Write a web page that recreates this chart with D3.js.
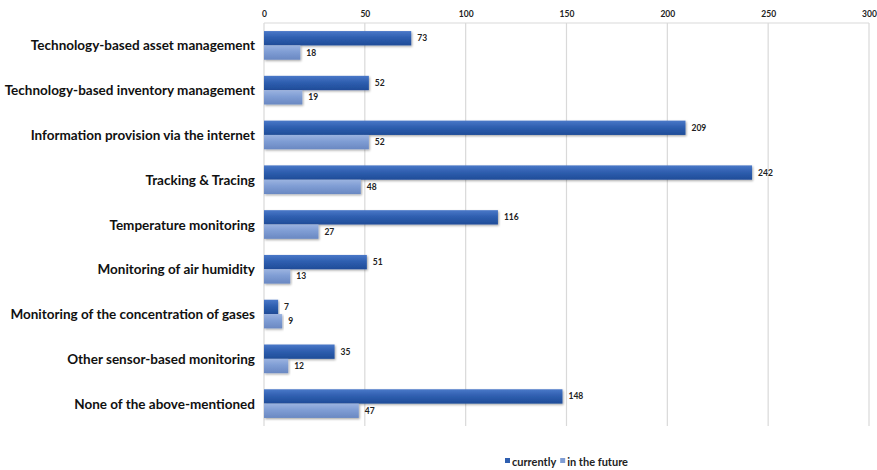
<!DOCTYPE html>
<html>
<head>
<meta charset="utf-8">
<script src="https://cdn.jsdelivr.net/npm/d3@7"></script>
<style>
  html, body { margin: 0; padding: 0; background: #fff; }
  svg { display: block; }
</style>
</head>
<body>
<svg id="chart" width="877" height="470"></svg>
<script>
// Chart data
const categories = [
  "Technology-based asset management",
  "Technology-based inventory management",
  "Information provision via the internet",
  "Tracking & Tracing",
  "Temperature monitoring",
  "Monitoring of air humidity",
  "Monitoring of the concentration of gases",
  "Other sensor-based monitoring",
  "None of the above-mentioned"
];
const seriesNames = ["currently", "in the future"];
const currently = [73, 52, 209, 242, 116, 51, 7, 35, 148];
const inTheFuture = [18, 19, 52, 48, 27, 13, 9, 12, 47];
const xTicks = [0, 50, 100, 150, 200, 250, 300];

const rows = categories.map((c, i) => ({
  category: c,
  values: [
    { key: seriesNames[0], value: currently[i] },
    { key: seriesNames[1], value: inTheFuture[i] }
  ]
}));

const svg = d3.select("#chart");
const margin = { top: 23, left: 264, right: 8, bottom: 44 };
const plotW = 605, plotH = 403;

const g = svg.append("g").attr("transform", `translate(${margin.left},${margin.top})`);

const x = d3.scaleLinear().domain([0, 300]).range([0, plotW]);
const y0 = d3.scaleBand().domain(categories).range([0, plotH])
  .paddingInner(0.36).paddingOuter(0.18);
const y1 = d3.scaleBand().domain(seriesNames).range([0, y0.bandwidth()]);

// Gradients for the bars
const defs = svg.append("defs");
const grads = [
  { id: "gCur", stops: ["#4a78c8", "#2f5fb0", "#1f4c98"] },
  { id: "gFut", stops: ["#9bb3e0", "#7f9dd4", "#6a88c2"] }
];
grads.forEach(gr => {
  const lg = defs.append("linearGradient").attr("id", gr.id)
    .attr("x1", 0).attr("y1", 0).attr("x2", 0).attr("y2", 1);
  lg.append("stop").attr("offset", "0%").attr("stop-color", gr.stops[0]);
  lg.append("stop").attr("offset", "45%").attr("stop-color", gr.stops[1]);
  lg.append("stop").attr("offset", "100%").attr("stop-color", gr.stops[2]);
});
const shadow = defs.append("filter").attr("id", "shadow")
  .attr("x", "-5%").attr("y", "-20%").attr("width", "115%").attr("height", "160%");
shadow.append("feDropShadow").attr("dx", 1).attr("dy", 1.2)
  .attr("stdDeviation", 0.9).attr("flood-color", "#000").attr("flood-opacity", 0.35);

const fills = { "currently": "url(#gCur)", "in the future": "url(#gFut)" };
const legendColors = { "currently": "#2f5fb0", "in the future": "#7f9dd4" };

// Top axis with gridlines
const xAxis = d3.axisTop(x).tickValues(xTicks).tickSize(0).tickPadding(8);
const ax = g.append("g").attr("class", "x-axis").call(xAxis);
ax.select(".domain").remove();
ax.selectAll("text")
  .attr("font-family", "Lato, 'Open Sans', sans-serif")
  .attr("font-size", 8.5).attr("font-weight", "bold").attr("fill", "#222")
  .attr("dy", "0.2em");

g.append("g").selectAll("line").data(xTicks).join("line")
  .attr("x1", d => x(d)).attr("x2", d => x(d))
  .attr("y1", 0).attr("y2", plotH)
  .attr("stroke", "#d9d9d9").attr("stroke-width", 1.2);
g.append("line").attr("x1", 0).attr("x2", plotW).attr("y1", 0).attr("y2", 0)
  .attr("stroke", "#d9d9d9").attr("stroke-width", 1.2);

// Category labels
g.append("g").selectAll("text").data(categories).join("text")
  .attr("x", -9)
  .attr("y", d => y0(d) + y0.bandwidth() / 2)
  .attr("text-anchor", "end").attr("dominant-baseline", "central")
  .attr("font-family", "Lato, 'Open Sans', sans-serif")
  .attr("font-size", 13.5).attr("font-weight", "bold").attr("fill", "#111")
  .text(d => d);

// Bars
const groups = g.append("g").selectAll("g").data(rows).join("g")
  .attr("transform", d => `translate(0,${y0(d.category)})`);

groups.selectAll("rect").data(d => d.values).join("rect")
  .attr("x", x(0))
  .attr("y", d => y1(d.key))
  .attr("width", d => x(d.value) - x(0))
  .attr("height", y1.bandwidth())
  .attr("fill", d => fills[d.key])
  .attr("filter", "url(#shadow)");

groups.selectAll("text").data(d => d.values).join("text")
  .attr("x", d => x(d.value) + 6)
  .attr("y", d => y1(d.key) + y1.bandwidth() / 2)
  .attr("dominant-baseline", "central")
  .attr("font-family", "Lato, 'Open Sans', sans-serif")
  .attr("font-size", 8.5).attr("font-weight", "bold").attr("fill", "#222")
  .text(d => d.value);

// Legend
const legend = svg.append("g").attr("transform", "translate(505,461)");
let lx = 0;
seriesNames.forEach(name => {
  const item = legend.append("g").attr("transform", `translate(${lx},0)`);
  item.append("rect").attr("x", 0).attr("y", -3).attr("width", 5).attr("height", 5)
    .attr("fill", legendColors[name]);
  const t = item.append("text").attr("x", 7).attr("y", 0)
    .attr("dominant-baseline", "central")
    .attr("font-family", "Lato, 'Open Sans', sans-serif")
    .attr("font-size", 11).attr("font-weight", "bold").attr("fill", "#222")
    .text(name);
  lx += 7 + t.node().getComputedTextLength() + 4;
});
</script>
</body>
</html>
